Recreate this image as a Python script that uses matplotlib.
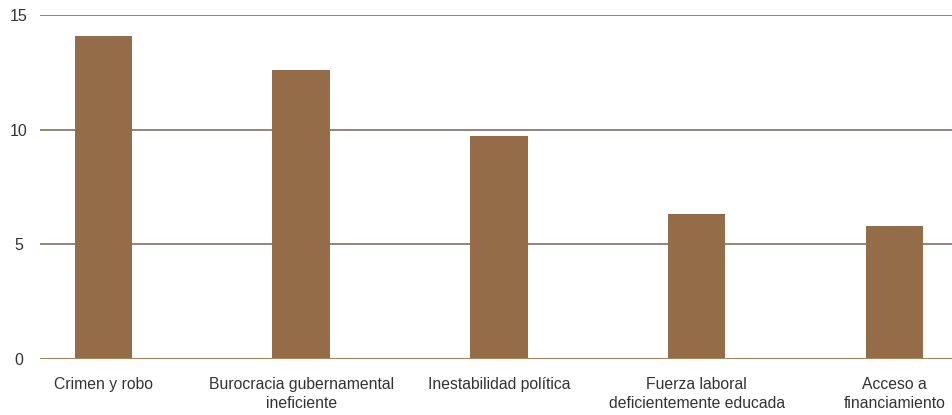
import matplotlib.pyplot as plt

plt.rcParams['font.family'] = ['Liberation Sans', 'DejaVu Sans']

categorias = ['Crimen y robo',
              'Burocracia gubernamental\nineficiente',
              'Inestabilidad política',
              'Fuerza laboral\ndeficientemente educada',
              'Acceso a\nfinanciamiento']
valores = [14.1, 12.6, 9.7, 6.3, 5.8]
ticks_y = [0, 5, 10, 15]

fig = plt.figure(figsize=(9.52, 4.15), dpi=100)
ax = fig.add_axes([0.042, 0.135, 0.958, 0.829])

x = list(range(len(categorias)))
ax.bar(x, valores, width=0.29, color='#946c48', edgecolor='none', zorder=3)

# lineas de cuadricula
for t in ticks_y[1:]:
    ax.axhline(t, color='#928478', linewidth=1.4, zorder=1)
ax.axhline(0, color='#a3855f', linewidth=2.2, zorder=4)

ax.set_ylim(0, 15)
ax.set_xlim(-0.32, 4.29)
ax.set_yticks(ticks_y)
ax.set_xticks(x)
ax.set_xticklabels(categorias, fontsize=11.3, color='#333333', linespacing=1.3)

for s in ax.spines.values():
    s.set_visible(False)

ax.tick_params(axis='x', length=0, pad=13)
ax.tick_params(axis='y', length=0, pad=15.5, labelsize=11.5, labelcolor='#333333')
for lbl in ax.get_yticklabels():
    lbl.set_horizontalalignment('center')

fig.savefig('out.png', dpi=100)
